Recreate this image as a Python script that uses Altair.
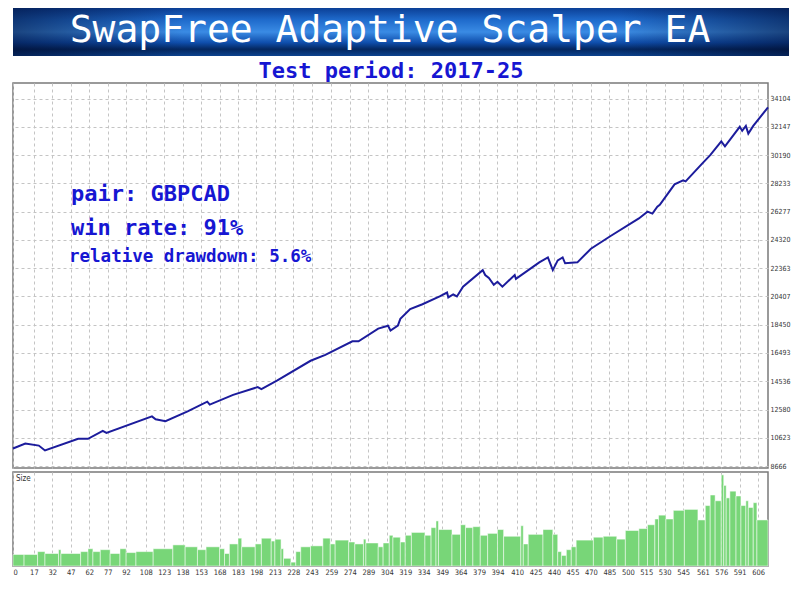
import altair as alt
import pandas as pd

# ---------------- data ----------------
title_text = "SwapFree Adaptive Scalper EA"
subtitle_text = "Test period: 2017-25"
notes = ["pair: GBPCAD", "win rate: 91%", "relative drawdown: 5.6%"]

x_labels = [0, 17, 32, 47, 62, 77, 92, 108, 123, 138, 153, 168, 183, 198, 213, 228,
            243, 259, 274, 289, 304, 319, 334, 349, 364, 379, 394, 410, 425, 440, 455,
            470, 485, 500, 515, 530, 545, 561, 576, 591, 606]
y_labels = [8666, 10623, 12580, 14536, 16493, 18450, 20407, 22363, 24320, 26277,
            28233, 30190, 32147, 34104]

eq_trade = [0, 10, 21, 26, 53, 61, 73, 76, 113, 116, 124, 142, 158, 160, 179, 199,
            202, 215, 242, 254, 276, 281, 297, 305, 307, 313, 315, 323, 333, 347, 353,
            354, 358, 361, 366, 382, 384, 387, 391, 394, 398, 408, 409, 428, 435, 439,
            443, 447, 449, 459, 470, 486, 509, 516, 520, 524, 526, 538, 545, 547, 561,
            567, 576, 579, 591, 593, 596, 598, 602, 614]
eq_balance = [9881, 10218, 10083, 9746, 10555, 10555, 11095, 10960, 12107, 11905, 11770,
              12445, 13120, 12917, 13592, 14132, 13997, 14604, 15954, 16359, 17303, 17303,
              18181, 18383, 18046, 18383, 18855, 19530, 19868, 20408, 20677, 20340, 20543,
              20408, 21082, 22230, 21892, 21690, 21217, 21420, 21082, 21892, 21622, 22769,
              23107, 22230, 22904, 23107, 22702, 22769, 23714, 24591, 25806, 26278, 26143,
              26616, 26751, 28168, 28438, 28370, 29652, 30192, 31137, 30799, 32149, 31879,
              32217, 31677, 32217, 33499]

size_edges = [0, 9, 20, 26, 37, 39, 55, 61, 65, 71, 79, 87, 92, 100, 114, 130, 140, 150,
              157, 168, 172, 176, 183, 186, 197, 202, 210, 213, 218, 220, 226, 230, 234,
              242, 252, 258, 262, 273, 278, 285, 287, 297, 301, 306, 309, 315, 319, 324,
              335, 340, 344, 346, 357, 364, 368, 374, 380, 386, 394, 399, 413, 415, 419,
              431, 439, 443, 446, 450, 454, 458, 472, 480, 491, 498, 509, 516, 522, 525,
              531, 537, 546, 557, 563, 567, 571, 576, 578, 580, 583, 588, 592, 596, 598,
              602, 605, 614]
size_values = [12, 12, 15, 13, 17, 13, 15, 18, 15, 17, 13, 18, 14, 15, 18, 22, 20, 17,
               20, 18, 13, 23, 29, 20, 23, 29, 26, 28, 18, 8, 4, 15, 20, 21, 29, 23, 27,
               25, 23, 28, 24, 20, 24, 32, 30,
               25, 32, 35, 32, 40, 47, 38, 33, 43, 40, 41, 32, 34, 38, 31, 42, 23, 33,
               38, 33, 15, 11, 17, 20, 27,
               30, 31, 28, 37, 39, 43, 49, 53, 49, 58, 59, 48, 63, 74, 68, 95, 84, 71,
               78, 73, 63, 68, 61, 66, 48]

# ---------------- styles ----------------
MONO = "DejaVu Sans Mono"
NARROW = "Liberation Sans Narrow, DejaVu Sans Condensed, Liberation Sans, sans-serif"
BLUE_TXT = "#1616d2"
GRID = "#c4c4c4"
FULL_W = 776
PANEL_W = 755

# ---------------- header ----------------
header_df = pd.DataFrame({"title": [title_text], "subtitle": [subtitle_text]})

banner = alt.Chart(header_df).mark_rect(
    fill=alt.LinearGradient(
        gradient="linear", x1=0, x2=0, y1=0, y2=1,
        stops=[
            alt.GradientStop(color="#0b3f96", offset=0),
            alt.GradientStop(color="#1f6bcc", offset=0.25),
            alt.GradientStop(color="#3a8be4", offset=0.5),
            alt.GradientStop(color="#0f4eac", offset=0.72),
            alt.GradientStop(color="#04275f", offset=0.86),
            alt.GradientStop(color="#0c438f", offset=1),
        ],
    )
).encode(x=alt.value(0), x2=alt.value(FULL_W), y=alt.value(0), y2=alt.value(48))

shade = alt.Chart(header_df).mark_rect(
    fill=alt.LinearGradient(
        gradient="linear", x1=0, x2=1, y1=0, y2=0,
        stops=[
            alt.GradientStop(color="rgba(0,10,45,0.55)", offset=0),
            alt.GradientStop(color="rgba(0,10,45,0)", offset=0.22),
            alt.GradientStop(color="rgba(0,10,45,0)", offset=0.78),
            alt.GradientStop(color="rgba(0,10,45,0.55)", offset=1),
        ],
    )
).encode(x=alt.value(0), x2=alt.value(FULL_W), y=alt.value(0), y2=alt.value(48))

title_mark = alt.Chart(header_df).mark_text(
    font=MONO, fontSize=38, color="white", align="center", baseline="alphabetic"
).encode(x=alt.value(377), y=alt.value(34), text="title:N")

subtitle_mark = alt.Chart(header_df).mark_text(
    font=MONO, fontSize=22, fontWeight="bold", color=BLUE_TXT,
    align="center", baseline="alphabetic"
).encode(x=alt.value(378), y=alt.value(70), text="subtitle:N")

header = alt.layer(banner, shade, title_mark, subtitle_mark).properties(
    width=FULL_W, height=71, view=alt.ViewBackground(strokeOpacity=0)
)

# ---------------- main equity panel ----------------
xscale = alt.Scale(domain=[0, 614], nice=False, zero=False)
eq_df = pd.DataFrame({"trade": eq_trade, "balance": eq_balance})

line = alt.Chart(eq_df).mark_line(color="#1c1c9c", strokeWidth=2).encode(
    x=alt.X("trade:Q", scale=xscale,
            axis=alt.Axis(values=x_labels, labels=False, ticks=False, domain=False,
                          grid=True, gridColor=GRID, gridDash=[3, 3], title=None)),
    y=alt.Y("balance:Q", scale=alt.Scale(domain=[8531, 35184], nice=False, zero=False),
            axis=alt.Axis(orient="right", values=y_labels, format="d", grid=True,
                          gridColor=GRID, gridDash=[3, 3], domain=False, ticks=False,
                          labelPadding=2, labelFont=NARROW, labelFontSize=7,
                          labelColor="#333333", title=None)),
)

note_df = pd.DataFrame({"note": notes})
note1 = alt.Chart(note_df.iloc[[0]]).mark_text(
    font=MONO, fontSize=22, fontWeight="bold", color=BLUE_TXT,
    align="left", baseline="alphabetic"
).encode(x=alt.value(58), y=alt.value(118), text="note:N")
note2 = alt.Chart(note_df.iloc[[1]]).mark_text(
    font=MONO, fontSize=22, fontWeight="bold", color=BLUE_TXT,
    align="left", baseline="alphabetic"
).encode(x=alt.value(58), y=alt.value(152), text="note:N")
note3 = alt.Chart(note_df.iloc[[2]]).mark_text(
    font=MONO, fontSize=17.5, fontWeight="bold", color=BLUE_TXT,
    align="left", baseline="alphabetic"
).encode(x=alt.value(56), y=alt.value(179), text="note:N")

main = alt.layer(line, note1, note2, note3).properties(width=PANEL_W, height=385)

# ---------------- size panel ----------------
size_df = pd.DataFrame({"start": size_edges[:-1], "end": size_edges[1:],
                        "size": size_values})

bars = alt.Chart(size_df).mark_bar(fill="#78d678", stroke="white", strokeWidth=0.5).encode(
    x=alt.X("start:Q", scale=xscale,
            axis=alt.Axis(values=x_labels, grid=True, gridColor=GRID, gridDash=[3, 3],
                          ticks=False, domain=False, labelFlush=True, labelPadding=2,
                          labelFont=NARROW, labelFontSize=7.5, labelColor="#333333",
                          title=None)),
    x2="end:Q",
    y=alt.Y("size:Q", scale=alt.Scale(domain=[0, 98], nice=False), axis=None),
    y2=alt.datum(0),
)

size_label = alt.Chart(pd.DataFrame({"lab": ["Size"]})).mark_text(
    font=NARROW, fontSize=8, color="#333333", align="left", baseline="middle"
).encode(x=alt.value(3), y=alt.value(7), text="lab:N")

size_panel = alt.layer(bars, size_label).properties(width=PANEL_W, height=94)

chart = alt.vconcat(header, main, size_panel, spacing=4, bounds="flush").properties(
    padding={"left": 0, "top": 0, "right": 0, "bottom": 0},
).configure_view(stroke="#7a7a7a", strokeWidth=1.5)

chart.save("out.html", embed_options={"renderer": "svg", "actions": False})
